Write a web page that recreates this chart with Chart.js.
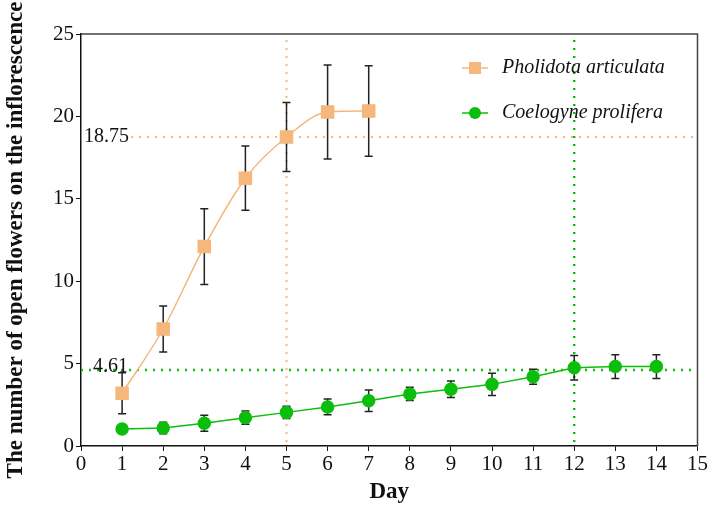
<!DOCTYPE html>
<html>
<head>
<meta charset="utf-8">
<script src="https://cdn.jsdelivr.net/npm/chart.js@4.4.1/dist/chart.umd.min.js"></script>
<style>
  html, body { margin: 0; padding: 0; background: #fff; }
  #wrap { width: 709px; height: 510px; }
</style>
</head>
<body>
<div id="wrap"><canvas id="dash"></canvas></div>
<script>
const phDays = [1, 2, 3, 4, 5, 6, 7];
const phMean = [3.2, 7.1, 12.1, 16.25, 18.75, 20.27, 20.33];
const phErr = [1.25, 1.4, 2.3, 1.95, 2.1, 2.85, 2.75];

const coDays = [1, 2, 3, 4, 5, 6, 7, 8, 9, 10, 11, 12, 13, 14];
const coMean = [1.03, 1.09, 1.38, 1.72, 2.04, 2.37, 2.75, 3.16, 3.44, 3.74, 4.2, 4.75, 4.82, 4.82];
const coErr = [0.1, 0.35, 0.48, 0.4, 0.37, 0.48, 0.65, 0.4, 0.5, 0.68, 0.45, 0.74, 0.72, 0.72];

// reference lines: [x, y, label]
const phRef = [5, 18.75, "18.75"];
const coRef = [12, 4.61, "4.61"];

const orange = "#F5B77C";
const green = "#0CBE0C";
const serif = "'Liberation Serif', 'Times New Roman', serif";

function pts(days, vals) {
  return days.map((d, i) => ({ x: d, y: vals[i] }));
}

const refLines = {
  id: "refLines",
  beforeDatasetsDraw(chart) {
    const { ctx, chartArea: a, scales: { x, y } } = chart;
    ctx.save();
    [[phRef, orange, 2], [coRef, green, 2.5]].forEach(([r, col, w]) => {
      ctx.strokeStyle = col;
      ctx.lineWidth = w;
      ctx.setLineDash([2, 6]);
      const px = x.getPixelForValue(r[0]);
      const py = y.getPixelForValue(r[1]);
      ctx.beginPath();
      ctx.moveTo(px, a.bottom - 4);
      ctx.lineTo(px, a.top);
      ctx.stroke();
      ctx.beginPath();
      ctx.moveTo(r === phRef ? a.left + 50 : a.left, py);
      ctx.lineTo(a.right, py);
      ctx.stroke();
    });
    ctx.setLineDash([]);
    ctx.fillStyle = "#111";
    ctx.font = "20px " + serif;
    ctx.textBaseline = "middle";
    ctx.textAlign = "left";
    ctx.fillText(phRef[2], a.left + 3, y.getPixelForValue(phRef[1]));
    ctx.textAlign = "right";
    ctx.fillText(coRef[2], a.left + 47, y.getPixelForValue(coRef[1]) - 3);

    // error bars
    ctx.strokeStyle = "#222";
    ctx.lineWidth = 1.5;
    [[phDays, phMean, phErr], [coDays, coMean, coErr]].forEach(([d, m, e]) => {
      d.forEach((day, i) => {
        const px = x.getPixelForValue(day);
        const top = y.getPixelForValue(m[i] + e[i]);
        const bot = y.getPixelForValue(m[i] - e[i]);
        ctx.beginPath();
        ctx.moveTo(px, top); ctx.lineTo(px, bot);
        ctx.moveTo(px - 4, top); ctx.lineTo(px + 4, top);
        ctx.moveTo(px - 4, bot); ctx.lineTo(px + 4, bot);
        ctx.stroke();
      });
    });
    ctx.restore();
  },
  afterDraw(chart) {
    const { ctx, chartArea: a } = chart;
    ctx.save();
    // frame top + right
    ctx.strokeStyle = "#444";
    ctx.lineWidth = 1.5;
    ctx.beginPath();
    ctx.moveTo(a.left, a.top);
    ctx.lineTo(a.right, a.top);
    ctx.lineTo(a.right, a.bottom);
    ctx.stroke();

    // legend
    const items = [
      ["Pholidota articulata", orange, "rect", 68],
      ["Coelogyne prolifera", green, "circle", 113],
    ];
    ctx.font = "italic 20px " + serif;
    ctx.textBaseline = "middle";
    ctx.textAlign = "left";
    items.forEach(([txt, col, shape, ly]) => {
      ctx.strokeStyle = col;
      ctx.lineWidth = 1.5;
      ctx.beginPath();
      ctx.moveTo(462, ly); ctx.lineTo(488, ly);
      ctx.stroke();
      ctx.fillStyle = col;
      if (shape === "rect") {
        ctx.fillRect(469, ly - 6, 12, 12);
      } else {
        ctx.beginPath();
        ctx.arc(475, ly, 6, 0, Math.PI * 2);
        ctx.fill();
      }
      ctx.fillStyle = "#111";
      ctx.fillText(txt, 502, ly);
    });
    ctx.restore();
  },
};

new Chart(document.getElementById("dash"), {
  type: "line",
  data: {
    datasets: [
      {
        label: "Pholidota articulata",
        data: pts(phDays, phMean),
        borderColor: orange,
        backgroundColor: orange,
        borderWidth: 1.5,
        pointStyle: "rect",
        pointRadius: 8.5,
        pointHoverRadius: 8.5,
        tension: 0.3,
        cubicInterpolationMode: "monotone",
      },
      {
        label: "Coelogyne prolifera",
        data: pts(coDays, coMean),
        borderColor: green,
        backgroundColor: green,
        borderWidth: 1.5,
        pointStyle: "circle",
        pointRadius: 6,
        pointHoverRadius: 6,
        tension: 0,
      },
    ],
  },
  options: {
    responsive: true,
    maintainAspectRatio: false,
    animation: false,
    layout: { padding: { left: 0, right: 10, top: 34, bottom: 0 } },
    scales: {
      x: {
        type: "linear",
        min: 0,
        max: 15,
        ticks: { stepSize: 1, color: "#111", font: { family: serif, size: 21 }, padding: 1 },
        grid: { drawOnChartArea: false, drawTicks: true, tickLength: 5, color: "#111" },
        border: { color: "#111", width: 1.5 },
        title: {
          display: true,
          text: "Day",
          color: "#111",
          font: { family: serif, size: 23, weight: "bold" },
          padding: { top: 8 },
        },
        afterFit(s) { s.height = 64; },
      },
      y: {
        min: 0,
        max: 25,
        ticks: { stepSize: 5, color: "#111", font: { family: serif, size: 21 }, padding: 2 },
        grid: { drawOnChartArea: false, drawTicks: true, tickLength: 5, color: "#111" },
        border: { color: "#111", width: 1.5 },
        title: {
          display: true,
          text: "The number of open flowers on the inflorescence",
          color: "#111",
          font: { family: serif, size: 23, weight: "bold" },
          padding: { top: 2, bottom: 0 },
        },
        afterFit(s) { s.width = 81; },
      },
    },
    plugins: {
      legend: { display: false },
      tooltip: { enabled: false },
    },
  },
  plugins: [refLines],
});
</script>
</body>
</html>
